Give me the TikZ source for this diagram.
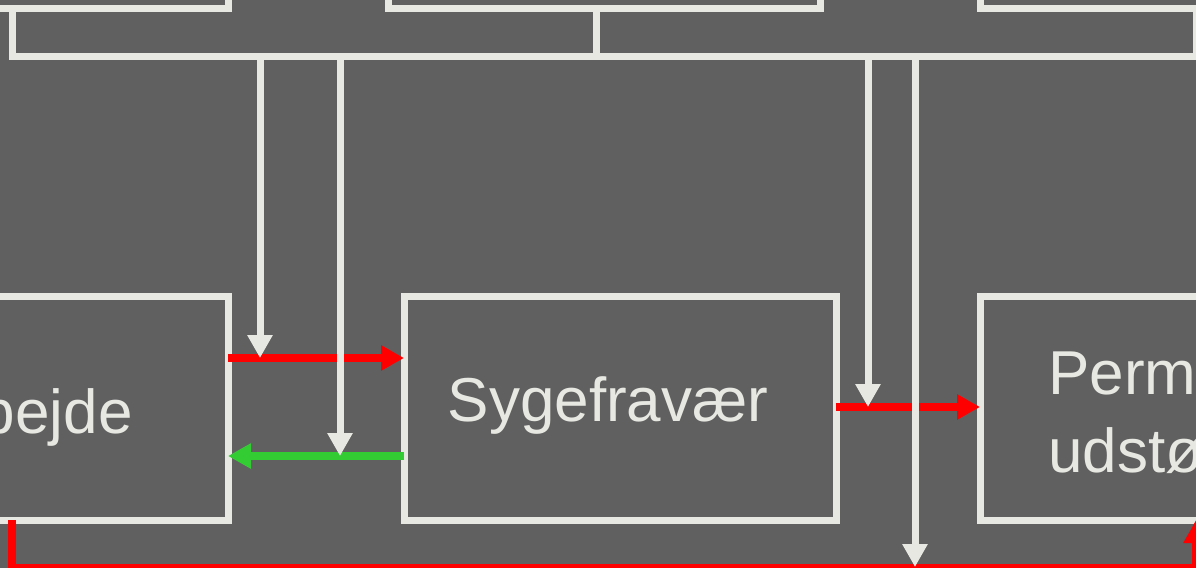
\documentclass[tikz,border=0pt]{standalone}
\usepackage{fontspec}
\setmainfont{Liberation Sans}
\usetikzlibrary{arrows.meta}
\definecolor{bg}{HTML}{606060}
\definecolor{ln}{HTML}{E8E8E3}
\definecolor{rd}{HTML}{FF0000}
\definecolor{gr}{HTML}{33CC33}
\begin{document}
\begin{tikzpicture}[x=0.5pt,y=-0.5pt,
  box/.style={draw=ln, line width=3.5pt, rectangle, minimum width=216pt, minimum height=112pt, inner sep=0pt, outer sep=0pt},
  lbl/.style={text=ln, inner sep=0pt, font=\fontsize{31}{39}\selectfont},
  bus/.style={draw=ln, line width=3.5pt},
  down/.style={draw=ln, line width=3.5pt, -{Triangle[length=11.5pt,width=12pt]}},
  redarr/.style={draw=rd, line width=4pt, -{Triangle[length=11.5pt,width=12pt]}},
  grnarr/.style={draw=gr, line width=4pt, -{Triangle[length=11.5pt,width=12pt]}}]
\useasboundingbox (0,0) rectangle (1196,568);
\fill[bg] (0,0) rectangle (1196,568);
\clip (0,0) rectangle (1196,568);
% top boxes
\node[box] (t1) at (12,-104) {};
\node[box] (t2) at (604,-104) {};
\node[box] (t3) at (1196,-104) {};
% middle boxes
\node[box] (b1) at (12,408) {};
\node[box] (b2) at (620,408) {};
\node[box] (b3) at (1196,408) {};
% labels
\node[lbl, anchor=base east] (l1) at (133,433) {Arbejde};
\node[lbl, anchor=base] (l2) at (608,421) {Sygefravær};
\node[lbl, anchor=base west] (l3) at (1048,394) {Permanent};
\node[lbl, anchor=base west] (l4) at (1048,472) {udstødning};
% bus
\coordinate (t2c) at (596,8);
\coordinate (j2) at (596,56);
\draw[bus] (t1.south) -- ++(0,48) -| (t3.south);
\draw[bus] (t2c) -- (j2);
% horizontal arrows
\coordinate (yr1) at (0,358);
\coordinate (yg) at (0,456);
\coordinate (yr2) at (0,407);
\coordinate (a1) at (260,56);
\coordinate (a2) at (340,56);
\coordinate (a3) at (868,56);
\coordinate (a4) at (915,56);
\draw[redarr] (b1.east |- yr1) -- (b2.west |- yr1);
\draw[grnarr] (b2.west |- yg) -- (b1.east |- yg);
\draw[redarr] (b2.east |- yr2) -- (b3.west |- yr2);
\draw[redarr] (b1.south) -- ++(0,48) -| (b3.south);
% down arrows
\draw[down] (a1) -- (a1 |- yr1);
\draw[down] (a2) -- (a2 |- yg);
\draw[down] (a3) -- (a3 |- yr2);
\coordinate (yb) at (0,567);
\draw[down] (a4) -- (a4 |- yb);
\end{tikzpicture}
\end{document}
